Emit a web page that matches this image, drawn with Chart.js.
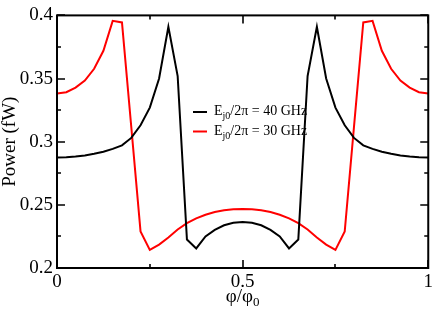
<!DOCTYPE html>
<html>
<head>
<meta charset="utf-8">
<script src="https://cdn.jsdelivr.net/npm/chart.js@4/dist/chart.umd.min.js"></script>
<style>
  html, body { margin: 0; padding: 0; background: #fff; }
  #wrap { width: 436px; height: 312px; position: relative; }
</style>
</head>
<body>
<div id="wrap"><canvas id="c" width="436" height="312"></canvas></div>
<script>
// ---- data ----
const phi = [0, 0.025, 0.05, 0.075, 0.1, 0.125, 0.15, 0.175, 0.2, 0.225,
  0.25, 0.275, 0.3, 0.325, 0.35, 0.375, 0.4, 0.425, 0.45, 0.475,
  0.5, 0.525, 0.55, 0.575, 0.6, 0.625, 0.65, 0.675, 0.7, 0.725,
  0.75, 0.775, 0.8, 0.825, 0.85, 0.875, 0.9, 0.925, 0.95, 0.975, 1];

const power40 = [0.2875, 0.2877, 0.2882, 0.2891, 0.2904, 0.2921, 0.2943, 0.2971, 0.3030, 0.3130,
  0.3270, 0.3500, 0.3910, 0.3520, 0.2225, 0.2155, 0.2250, 0.2302, 0.2338, 0.2358,
  0.2365, 0.2358, 0.2338, 0.2302, 0.2250, 0.2155, 0.2225, 0.3520, 0.3910, 0.3500,
  0.3270, 0.3130, 0.3030, 0.2971, 0.2943, 0.2921, 0.2904, 0.2891, 0.2882, 0.2877, 0.2875];

const power30 = [0.3381, 0.3392, 0.3428, 0.3484, 0.3577, 0.3720, 0.3957, 0.3944, 0.3120, 0.2290,
  0.2143, 0.2185, 0.2242, 0.2305, 0.2355, 0.2393, 0.2422, 0.2443, 0.2457, 0.2465,
  0.2468, 0.2465, 0.2457, 0.2443, 0.2422, 0.2393, 0.2355, 0.2305, 0.2242, 0.2185,
  0.2143, 0.2290, 0.3120, 0.3944, 0.3957, 0.3720, 0.3577, 0.3484, 0.3428, 0.3392, 0.3381];

const xTicksMajor = [0, 0.5, 1];
const xTicksMinor = [0.25, 0.75];
const yTicksMajor = [0.2, 0.25, 0.3, 0.35, 0.4];
const yTicksMinor = [0.225, 0.275, 0.325, 0.375];

const legendLabels = [
  { main: 'E', sub: 'j0', rest: '/2\u03C0 = 40 GHz', color: '#000000' },
  { main: 'E', sub: 'j0', rest: '/2\u03C0 = 30 GHz', color: '#ff0000' }
];
const yTitle = 'Power (fW)';
const xTitleMain = '\u03C6/\u03C6';
const xTitleSub = '0';

const FONT = '"Liberation Serif", "Times New Roman", serif';

const decor = {
  id: 'decor',
  afterDatasetsDraw(chart) {
    const ctx = chart.ctx;
    const a = chart.chartArea;
    const xs = chart.scales.x, ys = chart.scales.y;
    ctx.save();
    ctx.strokeStyle = '#000';
    ctx.lineWidth = 2;
    ctx.strokeRect(a.left, a.top, a.right - a.left, a.bottom - a.top);
    ctx.lineWidth = 1.6;
    ctx.beginPath();
    const tickY = (v, len) => {
      const p = Math.round(ys.getPixelForValue(v));
      ctx.moveTo(a.left, p); ctx.lineTo(a.left + len, p);
      ctx.moveTo(a.right, p); ctx.lineTo(a.right - len, p);
    };
    const tickX = (v, len) => {
      const p = Math.round(xs.getPixelForValue(v));
      ctx.moveTo(p, a.bottom); ctx.lineTo(p, a.bottom - len);
      ctx.moveTo(p, a.top); ctx.lineTo(p, a.top + len);
    };
    yTicksMajor.forEach(v => tickY(v, 8));
    yTicksMinor.forEach(v => tickY(v, 4));
    xTicksMajor.forEach(v => tickX(v, 8));
    xTicksMinor.forEach(v => tickX(v, 4));
    ctx.stroke();

    // y title
    ctx.fillStyle = '#000';
    ctx.save();
    ctx.translate(15, (a.top + a.bottom) / 2);
    ctx.rotate(-Math.PI / 2);
    ctx.font = '19px ' + FONT;
    ctx.textAlign = 'center';
    ctx.textBaseline = 'alphabetic';
    ctx.fillText(yTitle, 0, 0);
    ctx.restore();

    // x title with subscript
    ctx.font = '19px ' + FONT;
    const wMain = ctx.measureText(xTitleMain).width;
    ctx.font = '13px ' + FONT;
    const wSub = ctx.measureText(xTitleSub).width;
    const cx = (a.left + a.right) / 2;
    let x0 = cx - (wMain + wSub) / 2;
    ctx.textAlign = 'left';
    ctx.textBaseline = 'alphabetic';
    ctx.font = '19px ' + FONT;
    ctx.fillText(xTitleMain, x0, 302);
    ctx.font = '13px ' + FONT;
    ctx.fillText(xTitleSub, x0 + wMain, 306);

    // legend
    const lx = 193, tx = 214;
    const rows = [115, 134.5];
    legendLabels.forEach((l, i) => {
      const by = rows[i];
      ctx.strokeStyle = l.color;
      ctx.lineWidth = 2;
      ctx.beginPath();
      ctx.moveTo(lx, by - 3); ctx.lineTo(lx + 14, by - 3);
      ctx.stroke();
      ctx.fillStyle = '#000';
      ctx.font = '14px ' + FONT;
      ctx.fillText(l.main, tx, by);
      let x = tx + ctx.measureText(l.main).width;
      ctx.font = '10px ' + FONT;
      ctx.fillText(l.sub, x, by + 4);
      x += ctx.measureText(l.sub).width;
      ctx.font = '14px ' + FONT;
      ctx.fillText(l.rest, x, by);
    });
    ctx.restore();
  }
};

new Chart(document.getElementById('c'), {
  type: 'line',
  data: {
    datasets: [
      {
        label: 'Ej0/2π = 40 GHz',
        data: phi.map((p, i) => ({ x: p, y: power40[i] })),
        borderColor: '#000000',
        borderWidth: 2,
        pointRadius: 0,
        tension: 0,
        fill: false
      },
      {
        label: 'Ej0/2π = 30 GHz',
        data: phi.map((p, i) => ({ x: p, y: power30[i] })),
        borderColor: '#ff0000',
        borderWidth: 2,
        pointRadius: 0,
        tension: 0,
        fill: false
      }
    ]
  },
  options: {
    responsive: false,
    animation: false,
    events: [],
    layout: { padding: { top: 7, right: 6, left: 0, bottom: 0 } },
    plugins: { legend: { display: false }, tooltip: { enabled: false } },
    scales: {
      x: {
        type: 'linear', min: 0, max: 1,
        afterBuildTicks: s => { s.ticks = xTicksMajor.map(v => ({ value: v })); },
        ticks: { color: '#000', font: { family: FONT, size: 19 }, padding: 3, maxRotation: 0,
          callback: v => String(v) },
        grid: { display: false, drawTicks: false },
        border: { display: false },
        afterFit: s => { s.height = 44; }
      },
      y: {
        type: 'linear', min: 0.2, max: 0.4,
        afterBuildTicks: s => { s.ticks = yTicksMajor.map(v => ({ value: v })); },
        ticks: { color: '#000', font: { family: FONT, size: 19 }, padding: 4,
          callback: v => String(v) },
        grid: { display: false, drawTicks: false },
        border: { display: false },
        afterFit: s => { s.width = 57; }
      }
    }
  },
  plugins: [decor]
});
</script>
</body>
</html>
